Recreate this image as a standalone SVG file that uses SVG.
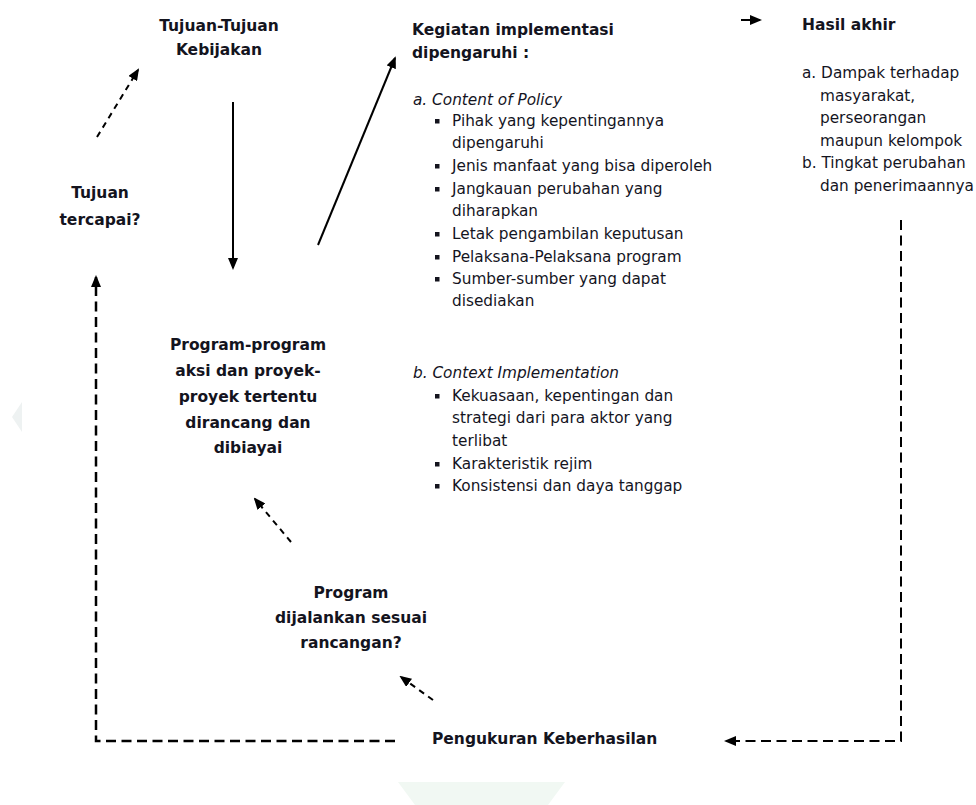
<svg xmlns="http://www.w3.org/2000/svg" width="976" height="805" viewBox="0 0 976 805">
<style>
text{font-family:"DejaVu Sans",Verdana,sans-serif;font-size:15.3px;fill:#14141e}
.b{font-weight:bold;font-size:15.5px}
.c{text-anchor:middle}
.i{font-style:italic}
.sol{stroke:#000;stroke-width:2;fill:none}
.dsh{stroke:#000;stroke-width:2.5;fill:none;stroke-dasharray:10 5.5}
.dsm{stroke:#000;stroke-width:2;fill:none;stroke-dasharray:6 5}
.blt{fill:#14141e}
</style>
<defs>
<marker id="ah" viewBox="0 0 12 10" refX="10" refY="5" markerWidth="12" markerHeight="10" markerUnits="userSpaceOnUse" orient="auto"><path d="M0,0 L12,5 L0,10 z" fill="#000"/></marker>
</defs>
<rect width="976" height="805" fill="#fff"/>
<g id="watermark">
<polygon points="22,402 22,432 12,417" fill="#eef2f2"/>
<polygon points="398,782 565,782 548,805 415,805" fill="#f1f8f3"/>
</g>
<g id="connectors">
<line class="dsm" x1="97" y1="137" x2="138" y2="70" marker-end="url(#ah)"/>
<line class="sol" x1="233" y1="102" x2="233" y2="268" marker-end="url(#ah)"/>
<line class="sol" x1="318" y1="245" x2="395" y2="58" marker-end="url(#ah)"/>
<line class="sol" x1="741" y1="20" x2="760" y2="20" marker-end="url(#ah)"/>
<path class="dsh" d="M395,741 L96,741 L96,277" marker-end="url(#ah)"/>
<path class="dsh" d="M901,220 L901,741 L726,741" marker-end="url(#ah)" style="stroke-width:2"/>
<line class="dsm" x1="433" y1="700" x2="401" y2="677" marker-end="url(#ah)"/>
<line class="dsm" x1="291" y1="542" x2="255" y2="499" marker-end="url(#ah)"/>
</g>
<g id="tujuan-kebijakan">
<text class="b c" x="219" y="31">Tujuan-Tujuan</text>
<text class="b c" x="219" y="55">Kebijakan</text>
</g>
<g id="tujuan-tercapai">
<text class="b c" x="100" y="198">Tujuan</text>
<text class="b c" x="100" y="225">tercapai?</text>
</g>
<g id="program-program">
<text class="b c" x="248" y="350">Program-program</text>
<text class="b c" x="248" y="376">aksi dan proyek-</text>
<text class="b c" x="248" y="402">proyek tertentu</text>
<text class="b c" x="248" y="428">dirancang dan</text>
<text class="b c" x="248" y="453">dibiayai</text>
</g>
<g id="program-dijalankan">
<text class="b c" x="351" y="598">Program</text>
<text class="b c" x="351" y="623">dijalankan sesuai</text>
<text class="b c" x="351" y="648">rancangan?</text>
</g>
<g id="pengukuran">
<text class="b" x="432" y="744">Pengukuran Keberhasilan</text>
</g>
<g id="kegiatan">
<text class="b" x="412" y="35">Kegiatan implementasi</text>
<text class="b" x="412" y="58">dipengaruhi :</text>
<text class="i" x="413" y="105">a. Content of Policy</text>
<rect class="blt" x="435" y="119" width="4.5" height="4.5"/>
<text x="452" y="126">Pihak yang kepentingannya</text>
<text x="452" y="148">dipengaruhi</text>
<rect class="blt" x="435" y="164" width="4.5" height="4.5"/>
<text x="452" y="171">Jenis manfaat yang bisa diperoleh</text>
<rect class="blt" x="435" y="187" width="4.5" height="4.5"/>
<text x="452" y="194">Jangkauan perubahan yang</text>
<text x="452" y="216">diharapkan</text>
<rect class="blt" x="435" y="232" width="4.5" height="4.5"/>
<text x="452" y="239">Letak pengambilan keputusan</text>
<rect class="blt" x="435" y="255" width="4.5" height="4.5"/>
<text x="452" y="262">Pelaksana-Pelaksana program</text>
<rect class="blt" x="435" y="277" width="4.5" height="4.5"/>
<text x="452" y="284">Sumber-sumber yang dapat</text>
<text x="452" y="306">disediakan</text>
<text class="i" x="413" y="378">b. Context Implementation</text>
<rect class="blt" x="435" y="394" width="4.5" height="4.5"/>
<text x="452" y="401">Kekuasaan, kepentingan dan</text>
<text x="452" y="423">strategi dari para aktor yang</text>
<text x="452" y="446">terlibat</text>
<rect class="blt" x="435" y="462" width="4.5" height="4.5"/>
<text x="452" y="469">Karakteristik rejim</text>
<rect class="blt" x="435" y="484" width="4.5" height="4.5"/>
<text x="452" y="491">Konsistensi dan daya tanggap</text>
</g>
<g id="hasil-akhir">
<text class="b" x="802" y="30">Hasil akhir</text>
<text x="802" y="78">a. Dampak terhadap</text>
<text x="820" y="101">masyarakat,</text>
<text x="820" y="123">perseorangan</text>
<text x="820" y="146">maupun kelompok</text>
<text x="802" y="168">b. Tingkat perubahan</text>
<text x="820" y="191">dan penerimaannya</text>
</g>
</svg>
